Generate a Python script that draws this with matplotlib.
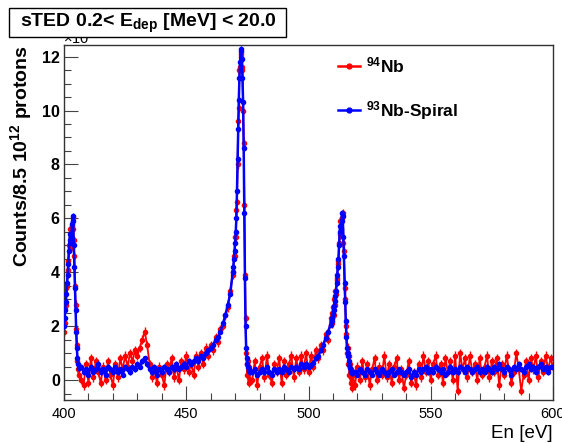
import numpy as np
import matplotlib
matplotlib.use("Agg")
import matplotlib.pyplot as plt
from matplotlib.patches import Rectangle
from matplotlib.lines import Line2D
from matplotlib.ticker import MultipleLocator

plt.rcParams['font.family'] = ['Liberation Sans', 'DejaVu Sans']
plt.rcParams['mathtext.fontset'] = 'custom'
plt.rcParams['mathtext.rm'] = 'Liberation Sans'
plt.rcParams['mathtext.bf'] = 'Liberation Sans:bold'
plt.rcParams['mathtext.it'] = 'Liberation Sans:italic'

# ---- neutron energy bin centres [eV]: 1 eV bins on the continuum, 0.25 eV on the resonances
energy = np.concatenate([
    np.arange(400.0, 406.01, 0.25),
    np.arange(407.0, 469.01, 1.0),
    np.arange(469.25, 476.01, 0.25),
    np.arange(477.0, 509.01, 1.0),
    np.arange(509.5, 518.01, 0.25),
    np.arange(519.0, 600.01, 1.0),
])

# ---- counts per 8.5e12 protons (x 1e-3)
nb94_counts = [
    # 400 - 406
    1.8, 2.1, 2.7, 2.8, 3.4, 3.5, 4.1, 4.4, 5.0, 5.0, 5.6, 4.9, 5.2, 5.7, 5.6, 6.0,
    5.2, 4.6, 3.5, 2.8, 1.9, 1.3, 0.7, 0.4, 0.2,
    # 407 - 469
    0.0, -0.2, 0.6, -0.1, 0.8, 0.1, 0.7, 0.3, -0.1, 0.5, 0.0, 0.7, 0.2, -0.2, 0.6, 0.1,
    0.8, 0.4, 0.9, 0.5, 1.0, 0.7, 1.1, 0.9, 1.2, 1.5, 1.8, 1.3, 0.6, 0.1, 0.4, -0.1,
    0.5, 0.2, -0.2, 0.6, 0.3, 0.8, 0.1, 0.5, 0.0, 0.7, 0.4, 0.9, 0.3, 0.6, 0.2, 0.9,
    0.5, 1.0, 0.6, 1.2, 0.9, 1.3, 1.1, 1.6, 1.4, 1.9, 2.0, 2.4, 2.7, 3.3, 3.9,
    # 469.25 - 476
    4.0, 4.6, 4.6, 5.3, 5.3, 6.3, 6.6, 8.0, 9.6, 10.1, 11.5, 11.6, 12.1, 12.0, 11.6, 11.5,
    10.0, 8.8, 6.5, 3.9, 2.3, 1.0, 0.6, 0.2, 0.7, -0.1, 0.5, 0.0,
    # 477 - 509
    0.0, 0.7, -0.2, 0.5, 0.8, 0.1, 0.9, 0.2, -0.1, 0.6, 0.3, 0.8, -0.1, 0.7, 0.2, 0.6,
    0.9, 0.1, 0.8, 0.3, 0.9, 0.4, 1.0, 0.3, 0.9, 0.5, 1.1, 0.8, 1.3, 1.1, 1.7, 1.5, 2.3,
    # 509.5 - 518
    2.5, 2.1, 2.7, 2.4, 3.0, 2.8, 3.3, 3.2, 3.8, 3.7, 4.4, 4.3, 5.1, 5.4, 5.9, 5.5,
    6.0, 6.0, 6.2, 5.1, 4.8, 3.4, 3.0, 2.0, 1.7, 1.0, 1.2, 0.6, 0.9, 0.2, 0.6, -0.1,
    0.4, -0.3, 0.2,
    # 519 - 600
    -0.2, 0.5, 0.0, 0.7, 0.1, 0.6, -0.2, 0.4, 0.8, 0.0, 0.5, 0.2, 0.9, 0.1, 0.6, -0.1,
    0.5, 0.8, 0.0, 0.4, -0.3, 0.2, 0.7, -0.1, 0.3, -0.2, 0.6, 0.1, 0.9, 0.3, 0.7, 0.0,
    0.6, 0.9, 0.2, 0.6, -0.1, 0.8, 0.3, 0.7, 0.0, 0.9, -0.4, 1.0, 0.4, 0.8, 0.1, 0.9,
    0.3, 0.6, 0.0, 0.8, 0.2, 0.5, 0.9, 0.1, 0.7, 0.3, 0.8, -0.2, 0.6, 0.2, 0.9, 0.4,
    -0.1, 0.3, 1.0, 0.4, -0.4, 0.2, 0.7, 0.0, 0.8, 0.4, 0.9, 0.1, 0.7, 0.3, 0.9, 0.4,
    0.8, 0.5,
]

nb93_spiral_counts = [
    # 400 - 406
    2.0, 2.3, 2.6, 2.9, 3.2, 3.6, 3.9, 4.3, 4.8, 5.2, 5.4, 5.1, 5.3, 5.8, 6.1, 5.9,
    5.0, 4.2, 3.4, 2.6, 1.8, 1.2, 0.8, 0.6, 0.45,
    # 407 - 469
    0.5, 0.3, 0.4, 0.2, 0.5, 0.3, 0.4, 0.6, 0.3, 0.4, 0.2, 0.5, 0.4, 0.3, 0.5, 0.3,
    0.4, 0.2, 0.5, 0.4, 0.3, 0.5, 0.4, 0.6, 0.5, 0.7, 0.8, 0.6, 0.4, 0.3, 0.5, 0.2,
    0.4, 0.3, 0.5, 0.4, 0.3, 0.5, 0.4, 0.6, 0.4, 0.5, 0.6, 0.5, 0.7, 0.6, 0.7, 0.8,
    0.7, 0.9, 0.8, 1.0, 1.1, 1.2, 1.3, 1.5, 1.6, 1.8, 2.1, 2.4, 2.8, 3.2, 4.0,
    # 469.25 - 476
    4.2, 4.5, 4.8, 5.1, 5.5, 6.0, 7.0, 8.2, 9.3, 10.4, 11.2, 11.8, 12.2, 12.3, 11.9, 11.2,
    10.3, 8.6, 6.2, 3.8, 2.0, 1.2, 0.8, 0.6, 0.5, 0.4, 0.35, 0.3,
    # 477 - 509
    0.3, 0.4, 0.2, 0.3, 0.4, 0.3, 0.5, 0.3, 0.2, 0.4, 0.3, 0.4, 0.3, 0.5, 0.4, 0.3,
    0.5, 0.4, 0.5, 0.4, 0.6, 0.5, 0.6, 0.5, 0.55, 0.65, 0.8, 0.9, 1.1, 1.3, 1.55, 1.8, 2.05,
    # 509.5 - 518
    2.2, 2.3, 2.45, 2.6, 2.75, 2.95, 3.1, 3.3, 3.6, 3.9, 4.2, 4.5, 5.0, 5.5, 5.7, 5.6,
    5.9, 6.2, 6.1, 5.3, 4.6, 3.6, 2.9, 2.2, 1.6, 1.2, 1.0, 0.9, 0.7, 0.55, 0.45, 0.35,
    0.3, 0.25, 0.3,
    # 519 - 600
    0.3, 0.2, 0.4, 0.3, 0.2, 0.4, 0.3, 0.2, 0.4, 0.3, 0.2, 0.4, 0.3, 0.2, 0.3, 0.4,
    0.2, 0.3, 0.4, 0.3, 0.2, 0.3, 0.4, 0.1, 0.3, 0.2, 0.4, 0.3, 0.4, 0.5, 0.3, 0.4,
    0.3, 0.5, 0.4, 0.3, 0.4, 0.2, 0.3, 0.5, 0.3, 0.4, 0.3, 0.5, 0.4, 0.3, 0.5, 0.4,
    0.3, 0.4, 0.5, 0.3, 0.4, 0.3, 0.5, 0.4, 0.3, 0.5, 0.4, 0.6, 0.4, 0.3, 0.5, 0.4,
    0.2, 0.5, 0.4, 0.6, 0.4, 0.3, 0.5, 0.6, 0.4, 0.5, 0.3, 0.5, 0.6, 0.4, 0.5, 0.3,
    0.5, 0.5,
]

# statistical uncertainties (x 1e-3)
nb94_err = 0.16
nb93_spiral_err = 0.10

series_labels = [r"$^{\mathbf{94}}$Nb", r"$^{\mathbf{93}}$Nb-Spiral"]
series_colors = ['#ff0000', '#0000ff']
title_text = r"sTED 0.2< E$_{\mathbf{dep}}$ [MeV] < 20.0"
xlabel_text = "En [eV]"
ylabel_text = r"Counts/8.5 10$^{\mathbf{12}}$ protons"
x_ticks = [400, 450, 500, 550, 600]
y_ticks = [0, 2, 4, 6, 8, 10, 12]

fig = plt.figure(figsize=(5.62, 4.43), dpi=100)
ax = fig.add_axes([64 / 562, 1 - 400 / 443, (553 - 64) / 562, (400 - 45) / 443])

ax.errorbar(energy, nb94_counts, yerr=nb94_err, fmt='-o', color=series_colors[0],
            ms=3.0, lw=1.3, elinewidth=1.0, capsize=0, zorder=2)
ax.errorbar(energy, nb93_spiral_counts, yerr=nb93_spiral_err, fmt='-o', color=series_colors[1],
            ms=3.0, lw=1.8, elinewidth=1.0, capsize=0, zorder=3)

ax.set_xlim(400, 600)
ax.set_ylim(-0.74, 12.43)
ax.set_xticks(x_ticks)
ax.set_xticklabels([str(t) for t in x_ticks])
ax.set_yticks(y_ticks)
ax.set_yticklabels([str(t) for t in y_ticks], fontweight='bold', fontsize=11.5)
ax.xaxis.set_minor_locator(MultipleLocator(10))
ax.yaxis.set_minor_locator(MultipleLocator(0.5))
ax.tick_params(axis='x', which='major', direction='in', length=10, width=0.8,
               color='#444444', labelsize=10.5, pad=5)
ax.tick_params(axis='y', which='major', direction='in', length=10, width=0.8,
               color='#444444', pad=3)
ax.tick_params(axis='both', which='minor', direction='in', length=5, width=0.8,
               color='#444444')
ax.tick_params(axis='y', which='both', left=True, right=False)
ax.tick_params(axis='x', which='both', bottom=True, top=False)
for s in ax.spines.values():
    s.set_linewidth(1.0)
    s.set_color('#333333')

ax.set_xlabel(xlabel_text, fontsize=13.5, loc='right', labelpad=3)
ax.set_ylabel(ylabel_text, fontsize=14, fontweight='bold', loc='top', labelpad=6)

# axis multiplier, partly hidden behind the title box
fig.text(63 / 562, 1 - 47 / 443, r"$\times$10$^{-3}$", fontsize=10.5, ha='left', va='bottom',
         zorder=1)

handles = [Line2D([], [], color=c, lw=1.8, marker='o', ms=3.5) for c in series_colors]
ax.legend(handles, series_labels, loc='upper left', bbox_to_anchor=(0.528, 1.015),
          frameon=False, handlelength=1.3, handletextpad=0.3, labelspacing=1.35,
          prop={'weight': 'bold', 'size': 12.5})

# title box
fig.patches.append(Rectangle((9 / 562, 1 - 37 / 443), 277 / 562, 29 / 443,
                             transform=fig.transFigure, facecolor='white',
                             edgecolor='black', lw=1.0, zorder=5))
fig.text(148 / 562, 1 - 23 / 443, title_text, fontsize=14, fontweight='bold',
         ha='center', va='center', zorder=6)

fig.savefig("out.png", dpi=100)
